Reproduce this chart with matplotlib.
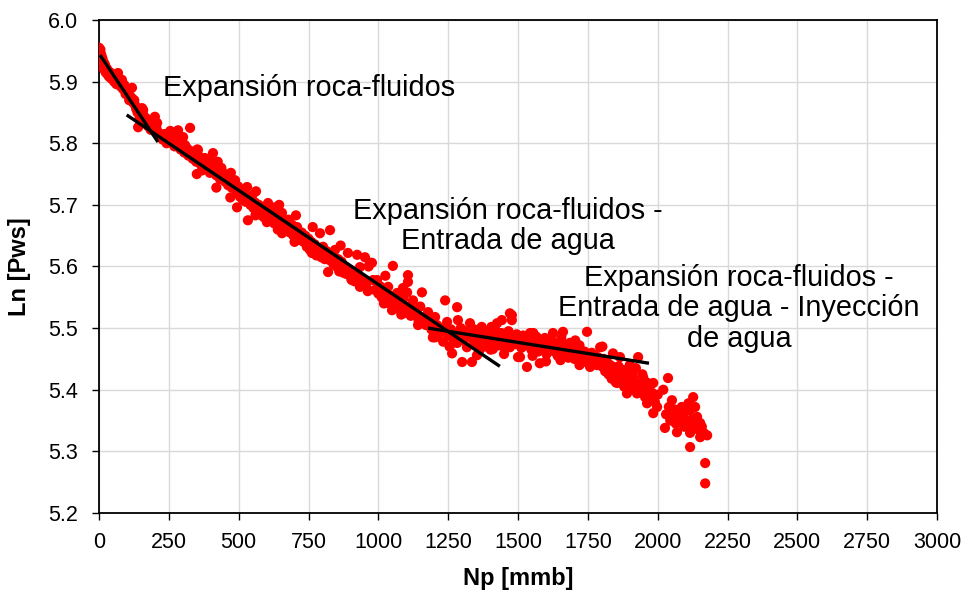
import matplotlib
matplotlib.use("Agg")
import matplotlib.pyplot as plt

plt.rcParams['font.family'] = ['Liberation Sans', 'DejaVu Sans']

# Cumulative oil production (mmb) vs ln of static pressure
np_early = [0, 2, 3, 5, 6, 8, 10, 12, 14, 16, 18, 21, 24, 27, 30, 32, 36, 40, 44, 47,
            50, 54, 58, 62, 66, 68, 72, 75, 78, 82, 86, 90, 95, 100, 104, 108, 112, 118,
            118, 122, 126, 129, 133, 138, 140, 145, 150, 154, 154, 158, 160, 165, 170,
            175, 180, 185, 190, 193, 198, 200, 205, 208, 212]
lnp_early = [5.955, 5.948, 5.940, 5.952, 5.935, 5.944, 5.930, 5.938, 5.925, 5.932, 5.920,
             5.928, 5.915, 5.922, 5.912, 5.918, 5.908, 5.915, 5.905, 5.907, 5.912, 5.900,
             5.906, 5.896, 5.910, 5.914, 5.900, 5.898, 5.892, 5.903, 5.888, 5.895, 5.880,
             5.884, 5.880, 5.870, 5.876, 5.890, 5.873, 5.866, 5.870, 5.862, 5.856, 5.850,
             5.826, 5.840, 5.848, 5.857, 5.833, 5.854, 5.845, 5.836, 5.840, 5.828, 5.832,
             5.822, 5.830, 5.821, 5.836, 5.843, 5.826, 5.833, 5.818]

np_mid = [220, 228, 235, 242, 250, 255, 261, 265, 270, 272, 278, 283, 288, 292, 297, 301,
          305, 308, 315, 320, 326, 330, 335, 340, 348, 354, 360, 365, 369, 375, 379, 385,
          390, 397, 403, 408, 412, 415, 420, 427, 433, 438, 444, 450, 456, 462, 468, 475,
          480, 487, 492, 494, 498, 505, 510, 515, 520, 525, 530, 533, 537, 542, 548, 553,
          558, 563, 566, 572, 578, 584, 590, 595, 601, 605, 610, 616, 622, 627, 630, 636,
          642, 648, 655, 655, 660, 666, 673, 678, 684, 690, 696, 702, 709, 714, 720, 726,
          732, 738, 744, 750, 755, 760, 766, 772, 778, 785, 791, 796, 802, 808, 814, 820,
          827, 827, 833, 839, 845, 850, 856, 862, 868, 874, 880, 885, 891, 897, 903, 909,
          915, 924, 930, 934, 934, 940, 946, 952, 958, 964, 970, 977, 981, 988, 995, 1000,
          1006, 1012, 1018, 1024, 1030, 1035, 1040, 1046, 1049, 1052, 1058, 1064, 1067,
          1072, 1078, 1085, 1090, 1096, 1103, 1106, 1106, 1110, 1116, 1124, 1130, 1138,
          1144, 1150, 1156, 1162, 1170, 1178, 1185, 1190,
          350, 352, 420, 425, 470, 472, 560, 562, 640, 645, 700, 705, 762, 765, 860, 865,
          905, 962, 965, 1020, 1025, 1082, 1088, 1142]
lnp_mid = [5.812, 5.806, 5.815, 5.800, 5.808, 5.820, 5.818, 5.800, 5.795, 5.805, 5.812,
           5.821, 5.798, 5.790, 5.804, 5.810, 5.785, 5.797, 5.792, 5.780, 5.825, 5.787,
           5.775, 5.782, 5.770, 5.789, 5.778, 5.765, 5.756, 5.772, 5.776, 5.760, 5.766,
           5.752, 5.770, 5.784, 5.758, 5.768, 5.748, 5.756, 5.742, 5.760, 5.752, 5.738,
           5.745, 5.732, 5.748, 5.728, 5.735, 5.740, 5.722, 5.696, 5.730, 5.713, 5.718,
           5.708, 5.725, 5.705, 5.729, 5.675, 5.712, 5.700, 5.715, 5.695, 5.704, 5.688,
           5.692, 5.700, 5.684, 5.694, 5.680, 5.690, 5.672, 5.703, 5.684, 5.676, 5.690,
           5.670, 5.696, 5.678, 5.668, 5.682, 5.687, 5.654, 5.672, 5.660, 5.664, 5.676,
           5.655, 5.668, 5.650, 5.660, 5.664, 5.645, 5.643, 5.655, 5.640, 5.650, 5.632,
           5.645, 5.627, 5.640, 5.622, 5.636, 5.618, 5.628, 5.654, 5.615, 5.632, 5.612,
           5.625, 5.591, 5.659, 5.610, 5.620, 5.604, 5.627, 5.600, 5.612, 5.596, 5.608,
           5.590, 5.600, 5.588, 5.622, 5.595, 5.580, 5.592, 5.576, 5.619, 5.585, 5.599,
           5.567, 5.580, 5.570, 5.615, 5.574, 5.562, 5.606, 5.606, 5.578, 5.562, 5.578,
           5.556, 5.568, 5.550, 5.562, 5.545, 5.556, 5.567, 5.540, 5.552, 5.529, 5.601,
           5.545, 5.535, 5.557, 5.540, 5.530, 5.540, 5.548, 5.525, 5.558, 5.586, 5.575,
           5.535, 5.520, 5.545, 5.530, 5.524, 5.512, 5.535, 5.558, 5.515, 5.505, 5.526,
           5.510, 5.498,
           5.750, 5.790, 5.728, 5.770, 5.712, 5.752, 5.683, 5.722, 5.660, 5.700, 5.640,
           5.683, 5.622, 5.664, 5.592, 5.634, 5.578, 5.560, 5.600, 5.540, 5.585, 5.522,
           5.565, 5.505]

np_late = [1195, 1203, 1203, 1210, 1218, 1225, 1232, 1239, 1240, 1246, 1250, 1255, 1260,
           1264, 1268, 1275, 1282, 1282, 1285, 1290, 1295, 1300, 1305, 1310, 1317, 1322,
           1328, 1335, 1338, 1343, 1348, 1353, 1358, 1364, 1370, 1375, 1380, 1385, 1389,
           1395, 1400, 1405, 1410, 1416, 1420, 1425, 1430, 1435, 1440, 1442, 1448, 1454,
           1460, 1466, 1471, 1471, 1478, 1478, 1484, 1490, 1495, 1500, 1505, 1507, 1512,
           1518, 1524, 1532, 1536, 1543, 1548, 1554, 1560, 1566, 1572, 1578, 1584, 1590,
           1596, 1602, 1608, 1614, 1620, 1625, 1630, 1636, 1642, 1648, 1654, 1661, 1666,
           1672, 1675, 1680, 1686, 1692, 1697, 1702, 1708, 1714, 1720, 1726, 1733, 1738,
           1743, 1747, 1752, 1758, 1764, 1770, 1776, 1782, 1788, 1794, 1800, 1806, 1812,
           1818, 1824, 1830, 1835, 1840, 1840, 1846, 1850, 1855, 1860, 1865, 1870, 1875,
           1880, 1885, 1890, 1890, 1890, 1895, 1900, 1905, 1910, 1912, 1918, 1922, 1926,
           1930, 1935, 1940, 1945, 1948, 1952, 1955, 1960, 1962, 1966, 1970, 1975, 1980,
           1984, 1984, 1984, 1990, 1998, 2000,
           1402, 1405, 1552, 1555, 1652, 1655, 1705, 1802, 1360, 1450, 1600, 1720, 2020]
lnp_late = [5.485, 5.518, 5.485, 5.505, 5.492, 5.500, 5.478, 5.545, 5.495, 5.510, 5.488,
            5.470, 5.498, 5.459, 5.482, 5.492, 5.534, 5.476, 5.513, 5.488, 5.500, 5.445,
            5.480, 5.495, 5.469, 5.488, 5.508, 5.445, 5.482, 5.498, 5.475, 5.456, 5.490,
            5.478, 5.502, 5.497, 5.470, 5.488, 5.481, 5.495, 5.476, 5.490, 5.466, 5.484,
            5.496, 5.508, 5.472, 5.481, 5.492, 5.513, 5.470, 5.486, 5.478, 5.495, 5.524,
            5.469, 5.513, 5.521, 5.482, 5.474, 5.490, 5.453, 5.480, 5.453, 5.468, 5.488,
            5.472, 5.437, 5.478, 5.492, 5.465, 5.480, 5.470, 5.486, 5.462, 5.443, 5.476,
            5.466, 5.484, 5.458, 5.472, 5.464, 5.480, 5.492, 5.462, 5.474, 5.455, 5.470,
            5.480, 5.494, 5.460, 5.470, 5.464, 5.452, 5.476, 5.462, 5.464, 5.450, 5.468,
            5.458, 5.472, 5.448, 5.445, 5.462, 5.455, 5.494, 5.450, 5.437, 5.460, 5.445,
            5.456, 5.440, 5.452, 5.469, 5.438, 5.450, 5.430, 5.446, 5.425, 5.440, 5.418,
            5.459, 5.437, 5.428, 5.412, 5.411, 5.438, 5.453, 5.420, 5.432, 5.405, 5.425,
            5.411, 5.432, 5.394, 5.415, 5.440, 5.400, 5.428, 5.420, 5.408, 5.435, 5.394,
            5.453, 5.410, 5.398, 5.425, 5.420, 5.402, 5.388, 5.412, 5.378, 5.398, 5.405,
            5.385, 5.395, 5.411, 5.388, 5.362, 5.380, 5.372, 5.392,
            5.465, 5.502, 5.455, 5.492, 5.448, 5.485, 5.480, 5.470, 5.462, 5.458, 5.446,
            5.440, 5.400]

np_tail = [2026, 2030, 2037, 2040, 2045, 2051, 2055, 2060, 2065, 2069, 2075, 2080, 2086,
           2091, 2095, 2100, 2106, 2110, 2116, 2116, 2116, 2122, 2127, 2130, 2134, 2138,
           2141, 2146, 2152, 2152, 2158, 2165, 2170, 2170, 2177]
lnp_tail = [5.338, 5.360, 5.419, 5.372, 5.350, 5.383, 5.356, 5.368, 5.345, 5.331, 5.362,
            5.350, 5.372, 5.356, 5.340, 5.365, 5.345, 5.378, 5.367, 5.330, 5.307, 5.352,
            5.388, 5.340, 5.372, 5.350, 5.356, 5.335, 5.346, 5.323, 5.340, 5.330, 5.281,
            5.248, 5.326]

# Straight-line segments for each drive mechanism (Np start/end, ln Pws start/end)
trend1_np = [4, 211]
trend1_lnp = [5.943, 5.802]
trend2_np = [99, 1435]
trend2_lnp = [5.846, 5.438]
trend3_np = [1178, 1969]
trend3_lnp = [5.500, 5.443]

x_ticks = list(range(0, 3001, 250))
y_ticks = [5.2, 5.3, 5.4, 5.5, 5.6, 5.7, 5.8, 5.9, 6.0]

fig = plt.figure(figsize=(9.67, 5.94), dpi=100)
ax = fig.add_axes([0.1024, 0.1364, 0.8666, 0.8299])

all_np = np_early + np_mid + np_late + np_tail
all_lnp = lnp_early + lnp_mid + lnp_late + lnp_tail
ax.scatter(all_np, all_lnp, s=54, color='#ff0000', edgecolors='none', zorder=3)

for xs, ys in [(trend1_np, trend1_lnp), (trend2_np, trend2_lnp), (trend3_np, trend3_lnp)]:
    ax.plot(xs, ys, color='black', linewidth=2.4, solid_capstyle='butt', zorder=4)

ax.set_xlim(0, 3000)
ax.set_ylim(5.2, 6.0)
ax.set_xticks(x_ticks)
ax.set_yticks(y_ticks)
ax.set_yticklabels([f"{v:.1f}" for v in y_ticks])
ax.grid(True, color='#d9d9d9', linewidth=1.0, zorder=0)
ax.set_axisbelow(True)
ax.tick_params(axis='both', labelsize=15.5, length=5, width=1, direction='out')
ax.tick_params(axis='y', pad=10)
ax.tick_params(axis='x', pad=9)
for sp in ax.spines.values():
    sp.set_color('black')
    sp.set_linewidth(1.3)

ax.set_xlabel('Np [mmb]', fontsize=17, fontweight='bold', labelpad=10)
ax.set_ylabel('Ln [Pws]', fontsize=17, fontweight='bold', labelpad=12)

ax.text(752, 5.890, 'Expansión roca-fluidos', fontsize=20.8, ha='center', va='center')
ax.text(1464, 5.666, 'Expansión roca-fluidos -\nEntrada de agua', fontsize=20.8,
        ha='center', va='center', linespacing=1.12)
ax.text(2291, 5.532, 'Expansión roca-fluidos -\nEntrada de agua - Inyección\nde agua',
        fontsize=20.8, ha='center', va='center', linespacing=1.12)

fig.savefig('out.png', dpi=100)
